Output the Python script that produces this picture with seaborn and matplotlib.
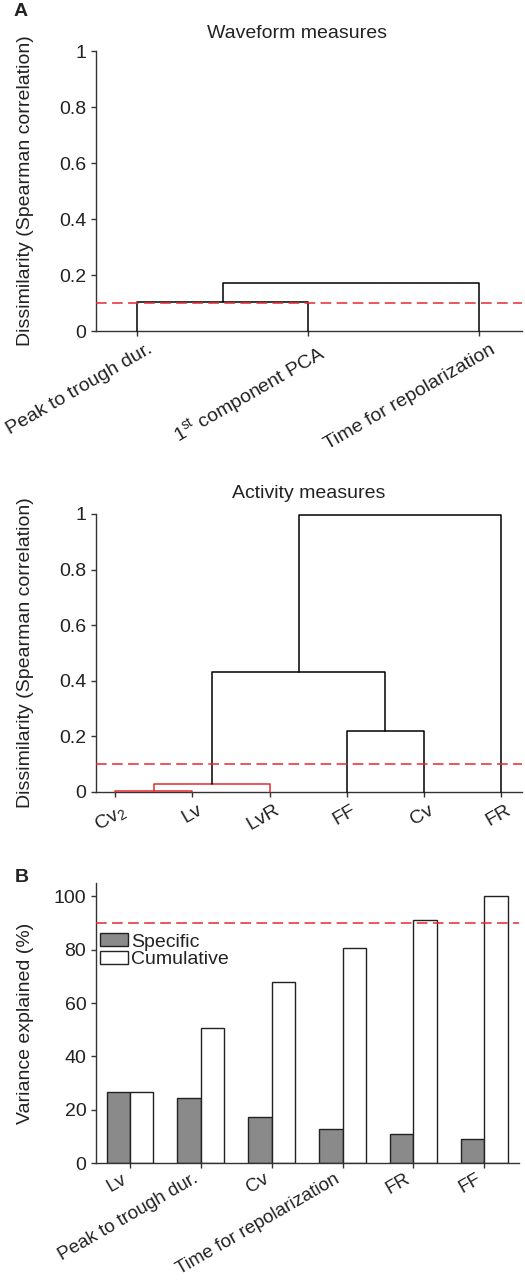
import numpy as np
import pandas as pd
import matplotlib
matplotlib.use("Agg")
import matplotlib.pyplot as plt
import matplotlib.transforms as mtransforms
import seaborn as sns

# panel A, top: waveform measures dendrogram (leaf order as drawn)
wave_leaves = ["Peak to trough dur.", "1$^{\\mathrm{st}}$ component PCA", "Time for repolarization"]
wave_links = [(0, 1, 0.103), (3, 2, 0.172)]   # (child a, child b, height)

# panel A, bottom: activity measures dendrogram
act_leaves = ["Cv$_{\\mathregular{2}}$", "Lv", "LvR", "FF", "Cv", "FR"]
act_links = [(0, 1, 0.003), (6, 2, 0.029), (3, 4, 0.220), (7, 8, 0.432), (9, 5, 0.995)]

dissim_threshold = 0.1

# panel B: variance explained
pca_measures = ["Lv", "Peak to trough dur.", "Cv", "Time for repolarization", "FR", "FF"]
specific = [26.8, 24.2, 17.3, 12.9, 10.9, 8.9]
cumulative = [26.8, 50.7, 67.9, 80.6, 91.2, 100.0]
var_threshold = 90

RED = "#e42a32"
SPINE = "#333333"

sns.set_theme(style="ticks", rc={
    "axes.edgecolor": SPINE,
    "axes.linewidth": 1.0,
    "xtick.color": SPINE,
    "ytick.color": SPINE,
    "xtick.major.size": 3.5,
    "ytick.major.size": 3.5,
    "xtick.major.width": 1.0,
    "ytick.major.width": 1.0,
    "text.color": "#222222",
    "axes.labelcolor": "#222222",
    "xtick.labelcolor": "#222222",
    "ytick.labelcolor": "#222222",
})
plt.rcParams["font.family"] = ["Liberation Sans", "DejaVu Sans"]
plt.rcParams["mathtext.fontset"] = "custom"
plt.rcParams["mathtext.rm"] = "Liberation Sans"
plt.rcParams["mathtext.it"] = "Liberation Sans:italic"
plt.rcParams["mathtext.bf"] = "Liberation Sans:bold"

fs = 14

fig = plt.figure(figsize=(5.25, 12.8), dpi=100)
W, H = 525, 1280


def px_axes(left, top, right, bottom):
    return fig.add_axes([left / W, 1 - bottom / H, (right - left) / W, (bottom - top) / H])


def shift_labels(ax, dx_px):
    off = mtransforms.ScaledTranslation(dx_px / 100, 0, fig.dpi_scale_trans)
    for lab in ax.get_xticklabels():
        lab.set_transform(lab.get_transform() + off)


def draw_dendrogram(ax, leaves, links, thr):
    n = len(leaves)
    xs = list(range(1, n + 1))
    ys = [0.0] * n
    for a, b, h in links:
        col = RED if h < thr else "black"
        ax.plot([xs[a], xs[a], xs[b], xs[b]], [ys[a], h, h, ys[b]],
                color=col, lw=1.1, clip_on=False, zorder=3)
        xs.append((xs[a] + xs[b]) / 2)
        ys.append(h)
    ax.axhline(thr, color=RED, lw=1.1, ls=(0, (7, 3.5)), zorder=4)
    ax.set_xticks(range(1, n + 1))
    ax.set_ylim(0, 1)
    ax.set_yticks([0, 0.2, 0.4, 0.6, 0.8, 1])
    ax.set_yticklabels(["0", "0.2", "0.4", "0.6", "0.8", "1"], fontsize=fs)
    ax.set_ylabel("Dissimilarity (Spearman correlation)", fontsize=fs)
    ax.yaxis.set_label_coords(-0.146, 0.5)
    sns.despine(ax=ax)


# waveform dendrogram
ax1 = px_axes(96, 51, 522, 331)
draw_dendrogram(ax1, wave_leaves, wave_links, dissim_threshold)
ax1.set_xlim(0.76, 3.25)
ax1.set_xticklabels(wave_leaves, rotation=30, ha="right", rotation_mode="anchor", fontsize=fs)
shift_labels(ax1, 10)
ax1.set_title("Waveform measures", fontsize=fs, pad=9, x=0.473)

# activity dendrogram
ax2 = px_axes(96, 514, 522, 792)
draw_dendrogram(ax2, act_leaves, act_links, dissim_threshold)
ax2.set_xlim(0.75, 6.27)
ax2.set_xticklabels(act_leaves, rotation=30, ha="right", rotation_mode="anchor", fontsize=fs)
shift_labels(ax2, 4)
ax2.set_title("Activity measures", fontsize=fs, pad=11.5)

# variance explained bars
df = pd.DataFrame({
    "measure": pca_measures * 2,
    "kind": ["Specific"] * len(pca_measures) + ["Cumulative"] * len(pca_measures),
    "value": specific + cumulative,
})
ax3 = px_axes(96, 883, 519, 1163)
sns.barplot(data=df, x="measure", y="value", hue="kind",
            palette={"Specific": "#8a8a8a", "Cumulative": "white"},
            edgecolor="#222222", linewidth=1.0, width=0.66, saturation=1,
            ax=ax3, zorder=2)
ax3.axhline(var_threshold, color=RED, lw=1.1, ls=(0, (7, 3.5)), zorder=4)
ax3.set_xlim(-0.48, 5.49)
ax3.set_ylim(0, 105)
ax3.set_yticks([0, 20, 40, 60, 80, 100])
ax3.tick_params(axis="y", labelsize=fs)
ax3.tick_params(axis="x", pad=2)
ax3.set_xticks(range(len(pca_measures)))
ax3.set_xticklabels(pca_measures, rotation=30, ha="right", fontsize=13.5)
ax3.set_xlabel("")
ax3.set_ylabel("Variance explained (%)", fontsize=fs)
ax3.yaxis.set_label_coords(-0.147, 0.5)
ax3.legend(loc="upper left", bbox_to_anchor=(0.01, 0.82), frameon=False, fontsize=fs,
           handlelength=1.45, handleheight=0.65, handletextpad=0.15, labelspacing=0.02,
           borderaxespad=0, borderpad=0)
sns.despine(ax=ax3)

fig.text(14 / W, 1 - 12 / H, "A", fontsize=14, fontweight="bold", va="center")
fig.text(15 / W, 1 - 878 / H, "B", fontsize=14, fontweight="bold", va="center")

fig.savefig("out.png", dpi=100)
